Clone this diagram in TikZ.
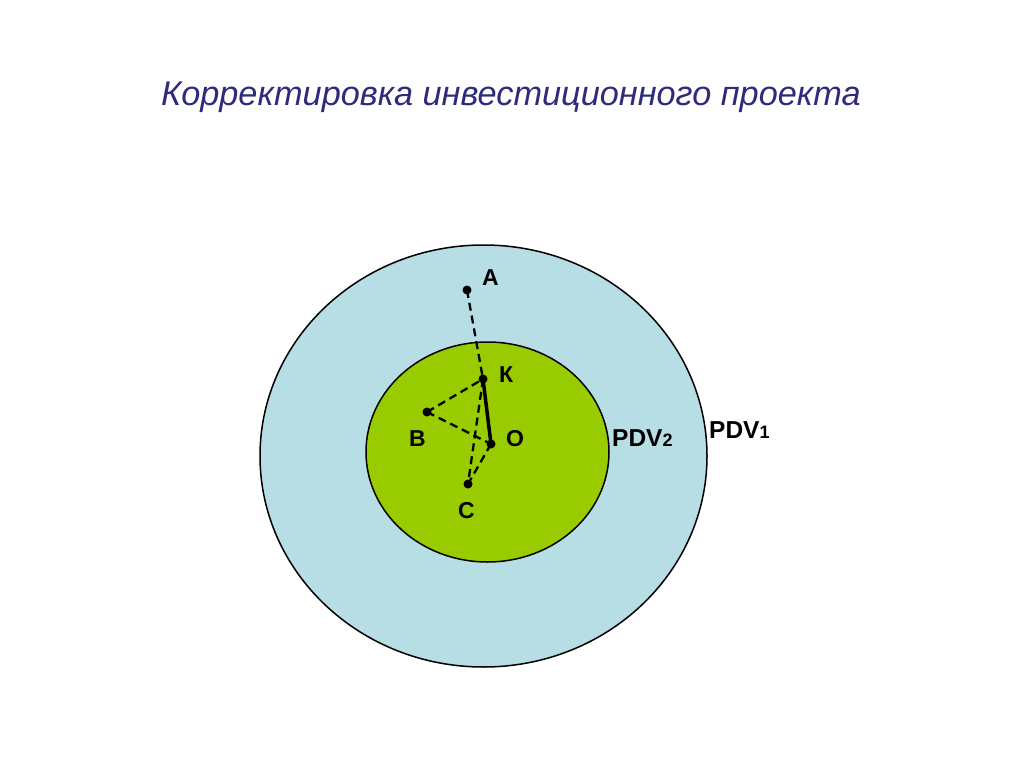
\documentclass[tikz,border=0pt]{standalone}
\usepackage{fontspec}
\setmainfont{Liberation Sans}
\definecolor{titleblue}{RGB}{46,42,125}
\definecolor{outerfill}{RGB}{183,222,228}
\definecolor{innerfill}{RGB}{153,204,0}
\tikzset{
  lbl/.style={font=\bfseries\fontsize{23}{23}\selectfont, inner sep=0pt, anchor=base west},
  pdv/.style={font=\bfseries\fontsize{24.5}{24.5}\selectfont, inner sep=0pt, anchor=base west},
  pt/.style={circle, fill=black, inner sep=0pt, minimum size=9pt},
  dline/.style={dashed, line width=2.3pt, dash pattern=on 8pt off 5pt},
}
\begin{document}
\begin{tikzpicture}[x=1pt,y=-1pt]
\useasboundingbox[fill=white] (0,0) rectangle (1024,767);
\node[font=\itshape\fontsize{34.3}{34.3}\selectfont, text=titleblue, anchor=base, inner sep=0pt] (title) at (511,106) {Корректировка инвестиционного проекта};
\draw[fill=outerfill, line width=1.5pt] (483.5,456) ellipse [x radius=223.5, y radius=211];
\draw[fill=innerfill, line width=1.5pt] (487.5,452) ellipse [x radius=121.5, y radius=110];
\node[pt] (A) at (467,290) {};
\node[pt] (K) at (483,379) {};
\node[pt] (B) at (427,412) {};
\node[pt] (O) at (491,444) {};
\node[pt] (C) at (468,484) {};
\draw[dline] (A.center) -- (K.center);
\draw[dline] (K.center) -- (C.center);
\draw[dline] (B.center) -- (K.center);
\draw[dline] (B.center) -- (O.center);
\draw[dline] (O.center) -- (C.center);
\draw[line width=3.5pt] (K.center) -- (O.center);
\node[lbl] (lA) at (482,285) {A};
\node[lbl] (lK) at (499,382) {К};
\node[lbl] (lB) at (409,446) {B};
\node[lbl] (lO) at (506,446) {O};
\node[lbl] (lC) at (458,518) {C};
\node[pdv] (p2) at (612,446) {PDV{\fontsize{18}{18}\selectfont 2}};
\node[pdv] (p1) at (709,438) {PDV{\fontsize{18}{18}\selectfont 1}};
\end{tikzpicture}
\end{document}
